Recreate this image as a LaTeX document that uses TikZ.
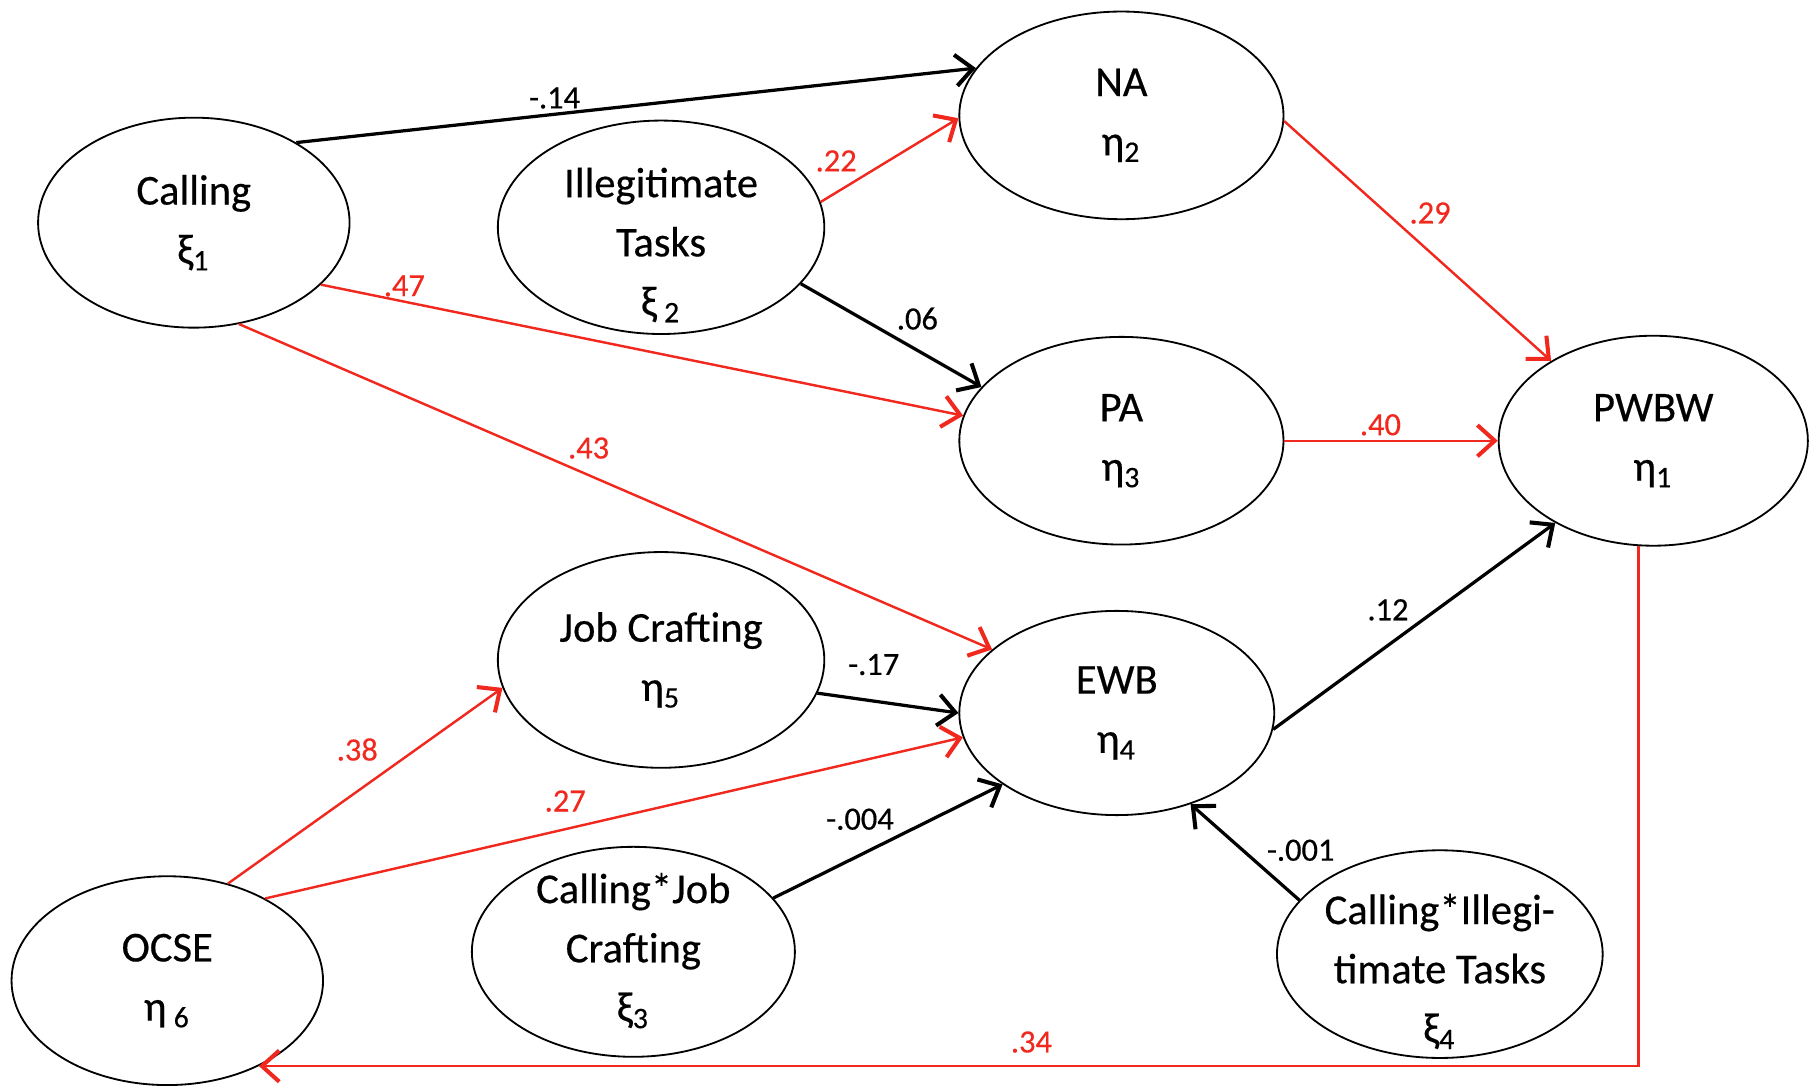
\documentclass[tikz,border=0pt]{standalone}
\usepackage{fontspec}
\setmainfont[FakeBold=0.4]{Carlito}
\usetikzlibrary{arrows.meta,shapes.geometric}
\definecolor{pathred}{RGB}{240,40,30}
% three lines set a little below the centre
\newcommand{\lowtext}[2][7pt]{\raisebox{-#1}[0pt][0pt]{\begin{tabular}{@{}c@{}}#2\end{tabular}}}

\begin{document}
\begin{tikzpicture}[every node/.style={font=\fontsize{10.5}{14.6}\selectfont},
  var/.style={draw,ellipse,line width=0.45pt,minimum width=2.78cm,minimum height=1.82cm,inner sep=0pt,align=center},
  lbl/.style={font=\fontsize{8}{9}\selectfont,inner sep=1pt},
  pth/.style={line width=0.8pt,-{Straight Barb[length=1.5mm,width=2.7mm,line width=1pt]}},
  sig/.style={pth,pathred,line width=0.6pt}]
\useasboundingbox (0,0) rectangle (15.68,-9.41);
\node[var,minimum width=2.70cm] (calling) at (1.68,-1.93) {Calling\\ξ\textsubscript{1}};
\node[var,minimum width=2.83cm,minimum height=1.85cm] (illeg) at (5.73,-1.97) {\lowtext{Illegitimate\\Tasks\\ξ\,\textsubscript{2}}};
\node[var,minimum width=2.81cm,minimum height=1.80cm] (na) at (9.72,-1.00) {NA\\η\textsubscript{2}};
\node[var,minimum width=2.81cm,minimum height=1.80cm] (pa) at (9.72,-3.82) {PA\\η\textsubscript{3}};
\node[var,minimum width=2.68cm] (pwbw) at (14.33,-3.82) {PWBW\\η\textsubscript{1}};
\node[var,minimum width=2.83cm,minimum height=1.87cm] (jobc) at (5.73,-5.72) {Job Crafting\\η\textsubscript{5}};
\node[var,minimum width=2.73cm,minimum height=1.77cm] (ewb) at (9.68,-6.18) {EWB\\η\textsubscript{4}};
\node[var,minimum width=2.70cm,minimum height=1.81cm] (ocse) at (1.45,-8.50) {OCSE\\η\,\textsubscript{6}};
\node[var,minimum width=2.80cm] (cjc) at (5.49,-8.25) {\lowtext[2.4pt]{Calling*Job\\Crafting\\ξ\textsubscript{3}}};
\node[var,minimum width=2.70cm,minimum height=1.80cm] (cit) at (12.48,-8.27) {\lowtext{Calling*Illegi-\\timate Tasks\\ξ\textsubscript{4}}};
% paths
\draw[pth] (calling.38) -- node[lbl,pos=.38,above] {-.14} (na.162);
\draw[sig] (illeg.9) -- node[lbl,pos=.3,above left] {.22} (na.181);
\draw[pth] (illeg.-22) -- node[lbl,pos=.5,above right] {.06} (pa.159);
\draw[sig] (calling.-26) -- node[lbl,pos=.13,above] {.47} (pa.171);
\draw[sig] (calling.-66) -- node[lbl,pos=.43,above right] {.43} (ewb.153);
\draw[sig] (na.-2) -- node[lbl,pos=.45,above right] {.29} (pwbw.142);
\draw[sig] (pa) -- node[lbl,pos=.45,above] {.40} (pwbw);
\draw[pth] (ewb.-6) -- node[lbl,pos=.5,above left] {.12} (pwbw.220);
\draw[pth] (jobc.-12) -- node[lbl,pos=.4,above=5pt] {-.17} (ewb.180);
\draw[sig] (ocse.58) -- node[lbl,pos=.58,above left=1pt] {.38} (jobc.190);
\draw[sig] (ocse.40) -- node[lbl,pos=.43,above=3pt] {.27} (ewb.189);
\draw[pth] (cjc.21) -- node[lbl,pos=.55,above left] {-.004} (ewb.212);
\draw[pth] (cit.159) -- node[lbl,pos=.35,above right] {-.001} (ewb.-51);
\draw[sig] (pwbw.262) |- node[lbl,pos=.72,above=2pt] {.34} (ocse.-43);
\end{tikzpicture}
\end{document}
